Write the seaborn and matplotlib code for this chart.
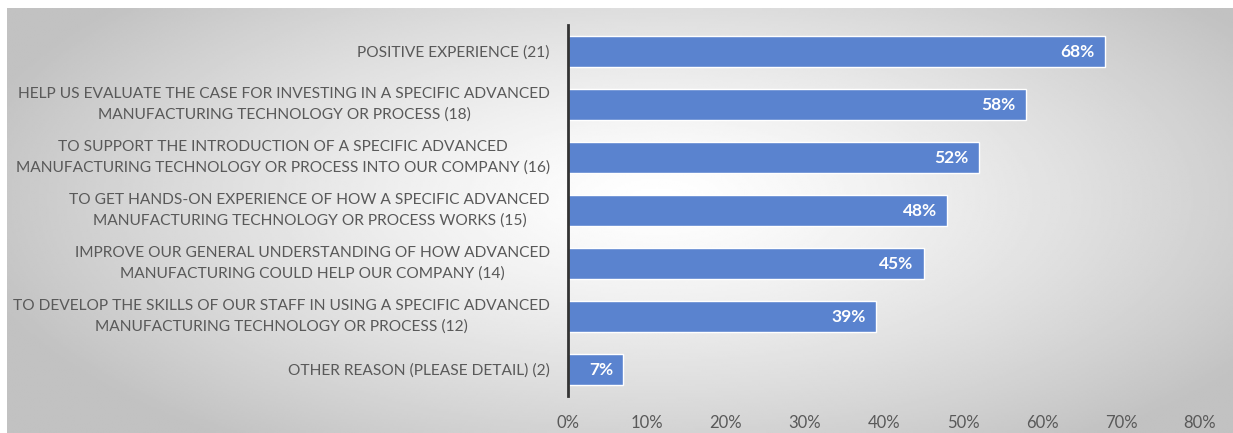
import numpy as np
import pandas as pd
import matplotlib
matplotlib.use("Agg")
import matplotlib.pyplot as plt
import seaborn as sns

# Survey reasons (respondent counts in brackets) and share of respondents
reasons = [
    "POSITIVE EXPERIENCE (21)",
    "HELP US EVALUATE THE CASE FOR INVESTING IN A SPECIFIC ADVANCED\nMANUFACTURING TECHNOLOGY OR PROCESS (18)",
    "TO SUPPORT THE INTRODUCTION OF A SPECIFIC ADVANCED\nMANUFACTURING TECHNOLOGY OR PROCESS INTO OUR COMPANY (16)",
    "TO GET HANDS-ON EXPERIENCE OF HOW A SPECIFIC ADVANCED\nMANUFACTURING TECHNOLOGY OR PROCESS WORKS (15)",
    "IMPROVE OUR GENERAL UNDERSTANDING OF HOW ADVANCED\nMANUFACTURING COULD HELP OUR COMPANY (14)",
    "TO DEVELOP THE SKILLS OF OUR STAFF IN USING A SPECIFIC ADVANCED\nMANUFACTURING TECHNOLOGY OR PROCESS (12)",
    "OTHER REASON (PLEASE DETAIL) (2)",
]
percent = [68, 58, 52, 48, 45, 39, 7]
x_ticks = [0, 10, 20, 30, 40, 50, 60, 70, 80]

df = pd.DataFrame({"reason": reasons, "percent": percent})

sns.set_theme(style="white")
plt.rcParams["font.family"] = ["Lato", "DejaVu Sans"]

W, H = 1233, 433
fig = plt.figure(figsize=(W / 100, H / 100), dpi=100)
fig.patch.set_facecolor("white")

# Soft radial grey background panel
bg = fig.add_axes([7 / W, 0, 1 - 7 / W, 1 - 8 / H], zorder=0)
gx = np.linspace(0, 1, 600)
gy = np.linspace(0, 1, 220)
X, Y = np.meshgrid(gx, gy)
r = np.hypot((X - 0.53) / 0.5, (Y - 0.45) / 0.62)
v = 1 - 0.20 * np.clip(r, 0, 1.3) ** 1.3
v = np.clip(v, 0.76, 1.0)
bg.imshow(v, cmap="gray", vmin=0, vmax=1, aspect="auto", extent=[0, 1, 1, 0],
          interpolation="bilinear")
bg.set_axis_off()

ax = fig.add_axes([568 / W, 1 - 396 / H, (1200 - 568) / W, (396 - 25) / H], zorder=1)
ax.set_facecolor("none")

bar_color = "#5A83CF"
sns.barplot(data=df, x="percent", y="reason", orient="h", color=bar_color,
            width=0.585, saturation=1, ax=ax)

ax.set_xlim(0, 80)
ax.set_ylim(6.5, -0.5)
ax.set_xticks(x_ticks)
ax.set_xticklabels([f"{t}%" for t in x_ticks])
ax.set_xlabel("")
ax.set_ylabel("")

for s in ["top", "right", "bottom"]:
    ax.spines[s].set_visible(False)
ax.spines["left"].set_color("#333333")
ax.spines["left"].set_linewidth(2)

ax.tick_params(axis="both", length=0)
ax.tick_params(axis="y", pad=13, labelsize=11.2, labelcolor="#595959")
ax.tick_params(axis="x", pad=14, labelsize=12, labelcolor="#595959")
for lbl in ax.get_yticklabels():
    lbl.set_multialignment("center")
    lbl.set_linespacing(1.55)
    if "\n" in lbl.get_text():
        lbl.set_verticalalignment("center")

for i, p in enumerate(percent):
    ax.text(p - 1.3, i, f"{p}%", ha="right", va="center", color="white",
            fontsize=12.5, fontweight="bold")

fig.savefig("out.png", dpi=100)
